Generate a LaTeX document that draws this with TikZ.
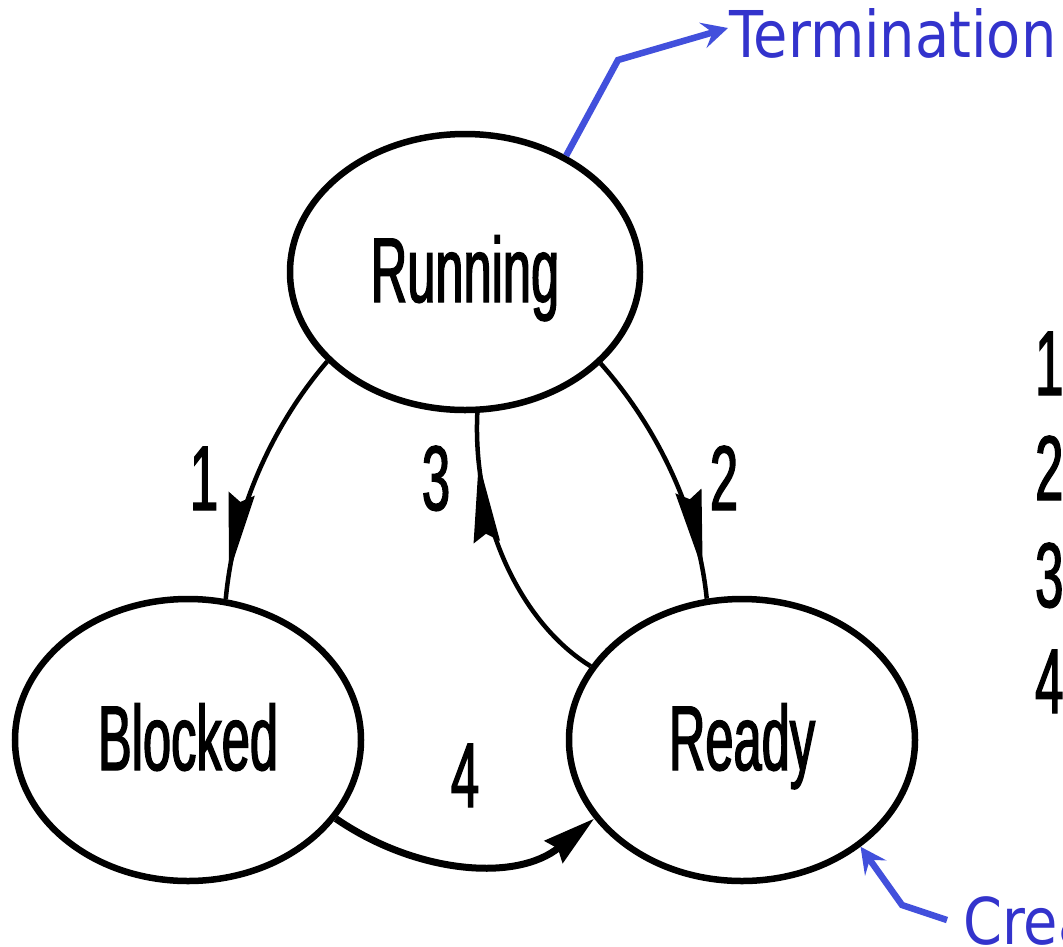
\documentclass[tikz,border=0pt]{standalone}
\usepackage{fontspec}
\usetikzlibrary{arrows.meta,shapes.geometric,decorations.markings}
\newfontfamily\narrowsans[FakeStretch=0.55,FakeBold=1.5]{Liberation Sans}
\newfontfamily\bluesans[FakeStretch=0.865]{DejaVu Sans}
\definecolor{linkblue}{RGB}{66,80,220}
\definecolor{textblue}{RGB}{51,51,204}
\begin{document}
\begin{tikzpicture}[x=1pt,y=-1pt,
  state/.style={ellipse, draw, line width=6.5pt, inner sep=0pt, text height=60pt, text depth=0pt,
    font=\narrowsans\fontsize{92}{110}\selectfont},
  numlabel/.style={inner sep=0pt, anchor=base, font=\narrowsans\fontsize{92}{110}\selectfont},
  trans/.style={line width=4.5pt, postaction={decorate}},
  midhead/.style={decoration={markings, mark=at position #1 with {\arrow{Stealth[length=80pt,width=26pt,inset=8pt]}}}},
  bluelink/.style={draw=linkblue, line width=6.5pt, -{Stealth[length=26pt,width=26pt,inset=10pt]}},
  bluetxt/.style={text=textblue, inner sep=0pt, anchor=base west, font=\bluesans\fontsize{64.5}{78}\selectfont}]
\useasboundingbox (0,0) rectangle (1063,946);
\clip (0,0) rectangle (1063,946);
\fill[white] (0,0) rectangle (1063,946);

% states
\node[state, minimum width=350pt, minimum height=276pt] (run) at (465,272) {Running};
\node[state, minimum width=346pt, minimum height=282pt] (blk) at (188,740) {Blocked};
\node[state, minimum width=346pt, minimum height=282pt] (rdy) at (742,740) {Ready};

% transition labels
\node[numlabel] (l1) at (204,510) {1};
\node[numlabel] (l2) at (724,510) {2};
\node[numlabel] (l3) at (436,510) {3};
\node[numlabel] (l4) at (465,807) {4};

% legend digits (cut at right edge)
\node[numlabel, anchor=base west] (k1) at (1035,395) {1};
\node[numlabel, anchor=base west] (k2) at (1035,500) {2};
\node[numlabel, anchor=base west] (k3) at (1035,607) {3};
\node[numlabel, anchor=base west] (k4) at (1035,713) {4};

% transitions
\draw[trans, midhead=0.9] (run.213.8) .. controls +(-49,57) and +(9,-97) .. (blk.75.1);
\draw[trans, midhead=0.89] (run.-34.8) .. controls +(49,55) and +(-10,-97) .. (rdy.104.5);
\draw[trans, midhead=0.83] (rdy.154.7) .. controls +(-70,-43) and +(-5,108) .. (run.-85.1);
\draw[line width=7pt, -{Stealth[length=52pt,width=28pt,inset=5pt]}]
  (blk.-28.3) .. controls +(80,55) and +(-78,64) .. (rdy.208.2);

% blue annotations
\node[bluetxt] (term) at (729,57) {Termination};
\node[bluetxt] (crea) at (963,944) {Creation};
\coordinate (tbend) at (618,60);
\coordinate (ttip) at (728,28);
\draw[bluelink] (run.49.6) -- (tbend) -- (ttip);
\coordinate (ctail) at (947,920);
\coordinate (cbend) at (902,905);
\draw[bluelink] (ctail) -- (cbend) -- (rdy.-42.4);
\end{tikzpicture}
\end{document}
